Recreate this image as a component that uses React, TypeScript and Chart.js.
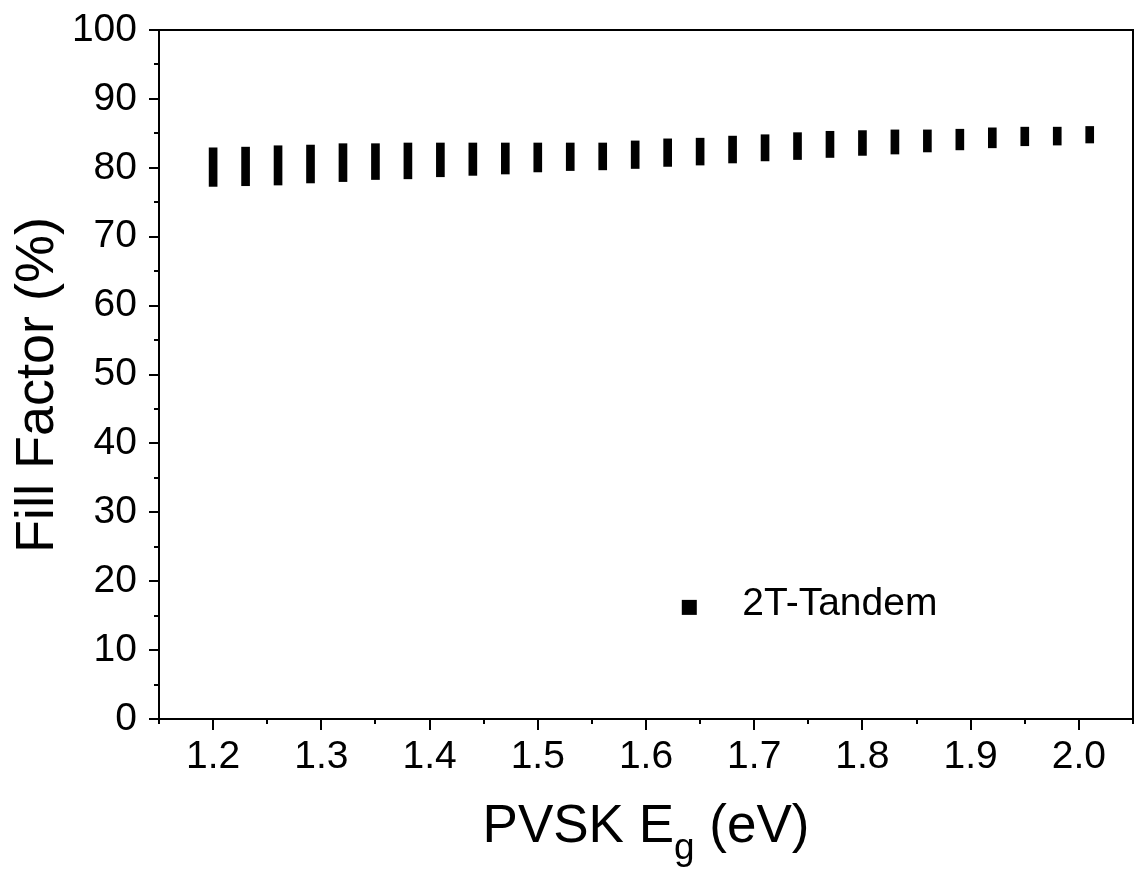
import React, { useEffect, useRef } from "react";
import { Chart, registerables } from "chart.js";

Chart.register(...registerables);

const EG_VALUES = [
  1.2, 1.23, 1.26, 1.29, 1.32, 1.35, 1.38, 1.41, 1.44, 1.47, 1.5, 1.53, 1.56, 1.59,
  1.62, 1.65, 1.68, 1.71, 1.74, 1.77, 1.8, 1.83, 1.86, 1.89, 1.92, 1.95, 1.98, 2.01,
];
const FF_LOW = [
  77.3, 77.4, 77.5, 77.8, 78.0, 78.3, 78.4, 78.7, 78.9, 79.1, 79.4, 79.6, 79.7, 79.9,
  80.2, 80.4, 80.7, 81.0, 81.2, 81.5, 81.8, 82.0, 82.3, 82.6, 82.9, 83.2, 83.3, 83.6,
];
const FF_HIGH = [
  82.9, 83.0, 83.2, 83.3, 83.5, 83.5, 83.6, 83.6, 83.6, 83.6, 83.6, 83.6, 83.6, 83.9,
  84.2, 84.3, 84.6, 84.8, 85.1, 85.3, 85.4, 85.5, 85.5, 85.6, 85.8, 85.9, 85.9, 86.0,
];
const X_TICKS = [1.2, 1.3, 1.4, 1.5, 1.6, 1.7, 1.8, 1.9, 2.0];
const X_MINOR = [1.15, 1.25, 1.35, 1.45, 1.55, 1.65, 1.75, 1.85, 1.95, 2.05];
const Y_TICKS = [0, 10, 20, 30, 40, 50, 60, 70, 80, 90, 100];
const Y_MINOR = [5, 15, 25, 35, 45, 55, 65, 75, 85, 95];
const SERIES_LABEL = "2T-Tandem";
const LEGEND_POS = { x: 1.64, y: 16.2 };

const FONT = '"Liberation Sans", Arial, Helvetica, sans-serif';

const framePlugin = {
  id: "frameAndTitles",
  afterDraw(chart: any) {
    const ctx = chart.ctx;
    const { left, right, top, bottom } = chart.chartArea;
    const xs = chart.scales.x;
    const ys = chart.scales.y;
    ctx.save();
    ctx.strokeStyle = "#000";
    ctx.lineWidth = 2;
    ctx.strokeRect(left, top, right - left, bottom - top);
    ctx.beginPath();
    for (const v of Y_TICKS) {
      const p = Math.round(ys.getPixelForValue(v));
      ctx.moveTo(left, p);
      ctx.lineTo(left - 10, p);
    }
    for (const v of Y_MINOR) {
      const p = Math.round(ys.getPixelForValue(v));
      ctx.moveTo(left, p);
      ctx.lineTo(left - 5, p);
    }
    for (const v of X_TICKS) {
      const p = Math.round(xs.getPixelForValue(v));
      ctx.moveTo(p, bottom);
      ctx.lineTo(p, bottom + 11);
    }
    for (const v of X_MINOR) {
      const p = Math.round(xs.getPixelForValue(v));
      ctx.moveTo(p, bottom);
      ctx.lineTo(p, bottom + 5);
    }
    ctx.stroke();

    // legend
    const lx = xs.getPixelForValue(LEGEND_POS.x);
    const ly = ys.getPixelForValue(LEGEND_POS.y);
    ctx.fillStyle = "#000";
    ctx.fillRect(lx - 7.5, ly - 7.5, 15, 15);
    ctx.font = `39px ${FONT}`;
    ctx.textAlign = "left";
    ctx.textBaseline = "alphabetic";
    ctx.fillText(SERIES_LABEL, lx + 53, ly + 8);

    // y title
    ctx.save();
    ctx.translate(53, 385);
    ctx.rotate(-Math.PI / 2);
    ctx.font = `54px ${FONT}`;
    ctx.textAlign = "center";
    ctx.fillText("Fill Factor (%)", 0, 0);
    ctx.restore();

    // x title with subscript
    const partA = "PVSK E";
    const partB = "g";
    const partC = " (eV)";
    ctx.font = `53px ${FONT}`;
    const wA = ctx.measureText(partA).width;
    const wC = ctx.measureText(partC).width;
    ctx.font = `37px ${FONT}`;
    const wB = ctx.measureText(partB).width;
    const total = wA + wB + wC;
    const x0 = (left + right) / 2 - total / 2;
    const base = 842;
    ctx.textAlign = "left";
    ctx.font = `53px ${FONT}`;
    ctx.fillText(partA, x0, base);
    ctx.font = `37px ${FONT}`;
    ctx.fillText(partB, x0 + wA, base + 17);
    ctx.font = `53px ${FONT}`;
    ctx.fillText(partC, x0 + wA + wB, base);
    ctx.restore();
  },
};

export default function App() {
  const ref = useRef<HTMLCanvasElement | null>(null);
  useEffect(() => {
    document.body.style.margin = "0";
    const canvas = ref.current;
    if (!canvas) return;
    const data = EG_VALUES.map((x, i) => ({ x, y: [FF_LOW[i], FF_HIGH[i]] }));
    const chart = new Chart(canvas, {
      type: "bar",
      data: {
        datasets: [
          {
            label: SERIES_LABEL,
            data: data as any,
            backgroundColor: "#000",
            borderWidth: 0,
            barThickness: 8,
          },
        ],
      },
      options: {
        animation: false,
        responsive: false,
        devicePixelRatio: 1,
        layout: { padding: { left: 0, right: 2, top: 30, bottom: 0 } },
        plugins: { legend: { display: false }, tooltip: { enabled: false } },
        scales: {
          x: {
            type: "linear",
            offset: false,
            min: 1.15,
            max: 2.05,
            grid: { display: false, drawTicks: false },
            border: { display: false },
            afterBuildTicks: (scale: any) => {
              scale.ticks = X_TICKS.map((v) => ({ value: v }));
            },
            afterFit: (scale: any) => {
              scale.height = 877 - 719;
              scale.paddingLeft = 0;
              scale.paddingRight = 0;
            },
            ticks: {
              autoSkip: false,
              maxRotation: 0,
              padding: 15,
              color: "#000",
              font: { family: FONT, size: 39 },
              callback: (v: any) => Number(v).toFixed(1),
            },
          },
          y: {
            type: "linear",
            min: 0,
            max: 100,
            grid: { display: false, drawTicks: false },
            border: { display: false },
            afterBuildTicks: (scale: any) => {
              scale.ticks = Y_TICKS.map((v) => ({ value: v }));
            },
            afterFit: (scale: any) => {
              scale.width = 159;
              scale.paddingTop = 0;
              scale.paddingBottom = 0;
            },
            ticks: {
              autoSkip: false,
              padding: 22,
              color: "#000",
              font: { family: FONT, size: 39 },
            },
          },
        },
      },
      plugins: [framePlugin],
    });
    return () => chart.destroy();
  }, []);
  return (
    <div style={{ width: 1135, height: 877 }}>
      <canvas ref={ref} width={1135} height={877} />
    </div>
  );
}
